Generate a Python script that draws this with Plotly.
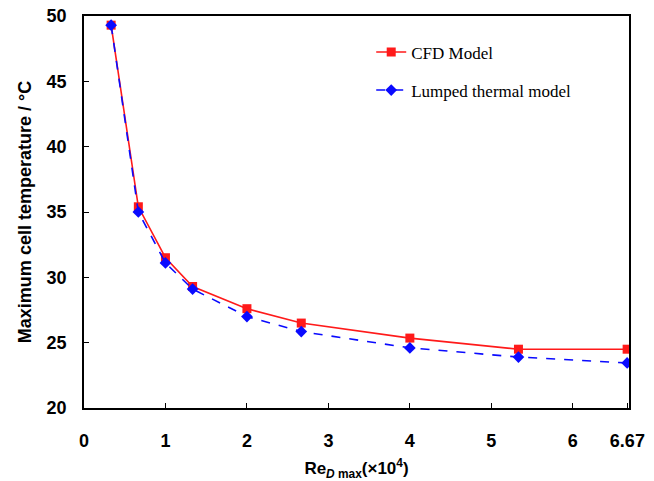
import plotly.graph_objects as go

re_vals = [0.333, 0.667, 1.0, 1.333, 2.0, 2.667, 4.0, 5.333, 6.667]
cfd = [49.3, 35.4, 31.5, 29.3, 27.6, 26.5, 25.35, 24.5, 24.5]
lumped = [49.3, 35.0, 31.1, 29.1, 27.0, 25.85, 24.6, 23.9, 23.45]
x_ticks = [0, 1, 2, 3, 4, 5, 6, 6.67]
x_ticktext = ["0", "1", "2", "3", "4", "5", "6", "6.67"]
y_ticks = [20, 25, 30, 35, 40, 45, 50]

fig = go.Figure()
fig.add_trace(go.Scatter(
    x=re_vals, y=cfd, name="CFD Model", mode="lines+markers", legendgroup="a",
    line=dict(color="#ff1a1a", width=1.6),
    marker=dict(symbol="square", size=9, color="#ff1a1a"),
))
fig.add_trace(go.Scatter(
    x=re_vals, y=lumped, name="Lumped thermal model", mode="lines+markers", legendgroup="b",
    line=dict(color="#0a0aff", width=1.6, dash="dash"),
    marker=dict(symbol="diamond", size=9, color="#0a0aff"),
))

axis_common = dict(
    showline=True, linecolor="black", linewidth=1.5, mirror=True,
    ticks="inside", ticklen=5, tickcolor="black", tickwidth=1,
    showgrid=False, zeroline=False, automargin=False,
    tickfont=dict(family="Liberation Sans, Arial", size=18, color="black", weight="bold"),
)

fig.update_layout(
    width=654, height=481,
    margin=dict(l=84, r=25, t=16, b=73),
    paper_bgcolor="white", plot_bgcolor="white",
    xaxis=dict(
        range=[0, 6.69], tickvals=x_ticks, ticktext=x_ticktext,
        ticklabelstandoff=16,
        title=dict(text="Re<sub><i>D</i> max</sub>(×10<sup>4</sup>)",
                   font=dict(family="Liberation Sans, Arial", size=17, color="black", weight="bold"),
                   standoff=16),
        **axis_common,
    ),
    yaxis=dict(
        range=[20, 50], tickvals=y_ticks,
        ticklabelstandoff=12,
        title=dict(text="Maximum cell temperature / °C",
                   font=dict(family="Liberation Sans, Arial", size=18, color="black", weight="bold"),
                   standoff=10),
        **axis_common,
    ),
    legend=dict(
        x=0.527, y=0.953, xanchor="left", yanchor="top",
        bgcolor="rgba(0,0,0,0)", borderwidth=0,
        font=dict(family="Liberation Serif, Times New Roman", size=17, color="black"),
        tracegroupgap=13, itemwidth=30,
    ),
    showlegend=True,
)

fig.write_html("out.html")
